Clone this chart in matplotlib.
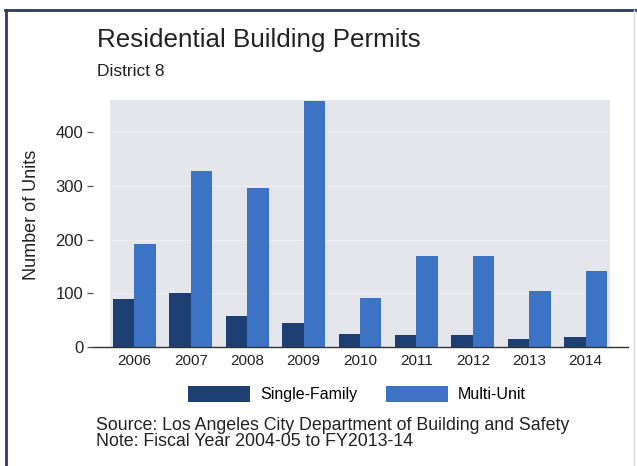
import matplotlib
matplotlib.use("Agg")
import matplotlib.pyplot as plt
from matplotlib.lines import Line2D
from matplotlib.patches import Patch, Rectangle
import numpy as np

years = ["2006", "2007", "2008", "2009", "2010", "2011", "2012", "2013", "2014"]
single_family = [90, 100, 57, 45, 25, 22, 22, 14, 19]
multi_unit = [192, 327, 296, 458, 91, 169, 169, 104, 141]
yticks = [0, 100, 200, 300, 400]

plt.rcParams['font.family'] = ['Liberation Sans', 'DejaVu Sans']

W, H = 637, 466
fig = plt.figure(figsize=(W / 100, H / 100), dpi=100)
fig.patch.set_facecolor('white')

def fx(px):
    return px / W

def fy(py):
    return 1 - py / H

ax_left, ax_right, ax_top, ax_bottom = 93, 628, 100, 347
ax = fig.add_axes([fx(ax_left), fy(ax_bottom), fx(ax_right - ax_left), (ax_bottom - ax_top) / H])
ax.set_facecolor('white')

x = np.arange(len(years))
bw = 0.38
ax.set_xlim(-0.733, 8.75)
ax.set_ylim(0, 460)

# panel background
ax.add_patch(Rectangle((-0.434, 0), 8.434 + 0.434, 460, facecolor='#e4e6eb',
                       edgecolor='none', zorder=0))
for t in [100, 200, 300, 400]:
    ax.plot([-0.434, 8.434], [t, t], color='#eceef2', lw=0.8, zorder=0.5)

sf_color = '#1d3f74'
mu_color = '#3c73c4'
ax.bar(x - bw / 2, single_family, width=bw, color=sf_color, zorder=2, label='Single-Family')
ax.bar(x + bw / 2, multi_unit, width=bw, color=mu_color, zorder=2, label='Multi-Unit')

for s in ['top', 'right', 'left']:
    ax.spines[s].set_visible(False)
ax.spines['bottom'].set_color('#333333')
ax.spines['bottom'].set_linewidth(1.0)

ax.set_yticks(yticks)
ax.set_yticklabels([str(v) for v in yticks], fontsize=12, color='#222222')
ax.tick_params(axis='y', length=4, width=0.9, color='#555555', pad=3)
ax.set_xticks(x)
ax.set_xticklabels(years, fontsize=11, color='#222222')
ax.tick_params(axis='x', length=0, pad=5)

fig.text(fx(32), fy(215), 'Number of Units', rotation=90, fontsize=13,
         ha='center', va='center', color='#222222')

fig.text(fx(97), fy(40), 'Residential Building Permits', fontsize=18.7,
         ha='left', va='center', color='#222222')
fig.text(fx(97), fy(71), 'District 8', fontsize=12.5,
         ha='left', va='center', color='#222222')

# legend
handles = [Patch(facecolor=sf_color, edgecolor='none'),
           Patch(facecolor=mu_color, edgecolor='none')]
leg = fig.legend(handles, ['Single-Family', 'Multi-Unit'], loc='center',
                 bbox_to_anchor=(fx(357), fy(394)), ncol=2, frameon=False,
                 fontsize=11.5, handlelength=3.9, handleheight=1.2,
                 handletextpad=0.63, columnspacing=1.75)

fig.text(fx(96), fy(433.5),
         'Source: Los Angeles City Department of Building and Safety\n'
         'Note: Fiscal Year 2004-05 to FY2013-14',
         fontsize=12.75, ha='left', va='center', color='#222222', linespacing=0.9)

# frame
fig.add_artist(Line2D([fx(5), fx(637)], [fy(10), fy(10)], color='#2b3a5e', lw=2))
fig.add_artist(Line2D([fx(6), fx(6)], [fy(10), fy(466)], color='#2b3a5e', lw=2))
fig.add_artist(Line2D([fx(634), fx(634)], [fy(10), fy(466)], color='#dddddd', lw=1))

fig.savefig('out.png', dpi=100)
